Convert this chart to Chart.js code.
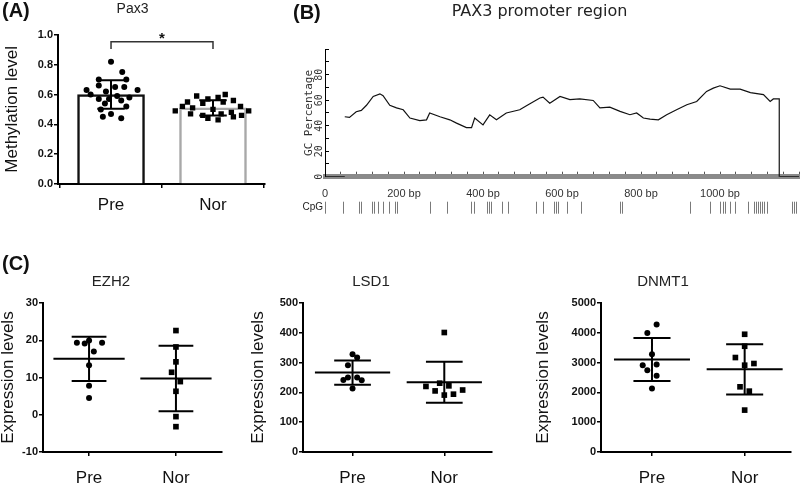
<!DOCTYPE html>
<html>
<head>
<meta charset="utf-8">
<script src="https://cdn.jsdelivr.net/npm/chart.js@4.4.1/dist/chart.umd.min.js"></script>
<style>
  html, body { margin: 0; padding: 0; background: #fff; }
  body { width: 800px; height: 485px; position: relative; overflow: hidden;
         font-family: 'Liberation Sans', Arial, sans-serif; }
  .box { position: absolute; }
  .tag { position: absolute; font-weight: bold; font-size: 20px; line-height: 20px; color: #111; }
</style>
</head>
<body>
<div class="box" style="left:0;top:0;width:329px;height:225px"><canvas id="chartA"></canvas></div>
<div class="box" style="left:280px;top:0;width:554px;height:225px"><canvas id="chartB"></canvas></div>
<div class="box" style="left:0;top:262px;width:255px;height:223px"><canvas id="chartEzh2"></canvas></div>
<div class="box" style="left:250px;top:262px;width:300px;height:223px"><canvas id="chartLsd1"></canvas></div>
<div class="box" style="left:535px;top:262px;width:336px;height:223px"><canvas id="chartDnmt1"></canvas></div>
<div class="tag" style="left:2px;top:0px">(A)</div>
<div class="tag" style="left:293px;top:2px">(B)</div>
<div class="tag" style="left:2px;top:253px">(C)</div>
<script>
// ---- data -------------------------------------------------------------
const groups = ['Pre', 'Nor'];

// (A) Pax3 methylation level, one value per sample
const pax3Pre = [0.82, 0.75, 0.70, 0.70, 0.66, 0.65, 0.65, 0.63, 0.63, 0.62, 0.60,
                 0.59, 0.58, 0.57, 0.57, 0.56, 0.54, 0.52, 0.50, 0.47, 0.45, 0.44];
const pax3PreJitter = [0, 0.11, -0.12, 0.15, -0.12, 0.04, 0.13, -0.24, 0.26, -0.05, -0.2,
                       0.06, 0.18, -0.12, -0.02, 0.1, -0.06, 0.15, -0.1, 0, -0.08, 0.1];
const pax3Nor = [0.60, 0.59, 0.58, 0.57, 0.56, 0.55, 0.55, 0.54, 0.52, 0.52, 0.51,
                 0.50, 0.49, 0.49, 0.48, 0.47, 0.47, 0.46, 0.46, 0.45, 0.44, 0.43];
const pax3NorJitter = [0.12, -0.16, 0.05, -0.05, 0.2, -0.25, 0.1, -0.1, -0.3, 0.27, -0.2,
                       0, -0.37, 0.35, 0.18, -0.22, 0.08, -0.1, 0.28, 0.2, -0.05, 0.05];
const pax3Bracket = { low: 0.905, high: 0.953, label: '*' };

// (B) GC percentage along the PAX3 promoter (bp)
const regionBp = [0, 1200];
const gcPos = [50, 62, 79, 92, 105, 122, 139, 147, 164, 181, 198, 215, 240, 257, 265, 291,
               316, 333, 358, 371, 379, 400, 417, 434, 459, 493, 510, 544, 552, 569, 595,
               620, 645, 679, 696, 721, 747, 772, 789, 806, 823, 844, 865, 890, 916, 941,
               966, 983, 1000, 1026, 1051, 1077, 1110, 1127, 1135, 1150];
const gcPct = [47, 46.5, 51, 52, 56, 63, 65, 63.5, 56, 54, 52.5, 46, 44, 44.6, 50, 47,
               44.6, 42, 38.5, 38.5, 46, 40.6, 48.5, 44.6, 50, 52.5, 55.6, 61.7, 62.4, 57.7, 63,
               60.4, 61, 59.8, 54, 54.5, 51.2, 48.6, 50, 46, 45.2, 44.6, 48.6, 52.5, 56.4, 59,
               66.9, 69.5, 71.3, 68.7, 68.7, 66, 64.4, 59, 61, 61];
const cpgSites = [46, 87, 92, 119, 125, 133, 146, 161, 176, 182, 266, 309, 370, 376, 411, 415,
                  419, 447, 464, 535, 552, 579, 584, 589, 613, 647, 748, 752, 924, 974, 1001,
                  1007, 1013, 1025, 1038, 1070, 1086, 1091, 1096, 1101, 1106, 1111, 1118,
                  1182, 1187, 1192];
const bpLabelEvery = 200;
const bpLabelMax = 1000;

// (C) expression levels
const ezh2Pre = [19.3, 19.1, 19.9, 19.3, 17.0, 13.3, 7.8, 4.5];
const ezh2PreJitter = [-0.14, -0.05, 0, 0.15, 0.055, 0, 0, 0];
const ezh2Nor = [22.6, 18.2, 14.2, 11.4, 8.9, 6.3, -0.5, -3.2];
const ezh2NorJitter = [0, 0, 0, -0.05, 0.05, 0, 0, 0];

const lsd1Pre = [328, 317, 291, 250, 250, 242, 241, 213];
const lsd1PreJitter = [0, 0.05, -0.05, -0.05, 0.05, -0.1, 0.1, 0];
const lsd1Nor = [401, 231, 222, 220, 205, 208, 191, 194];
const lsd1NorJitter = [0, -0.05, 0.05, -0.2, -0.1, 0.2, 0, 0.1];

const dnmt1Pre = [4275, 3996, 3281, 2913, 2935, 2746, 2556, 2132];
const dnmt1PreJitter = [0.05, -0.05, 0, -0.1, 0.05, -0.05, 0.05, 0];
const dnmt1Nor = [3951, 3549, 3170, 2913, 2969, 2188, 2042, 1406];
const dnmt1NorJitter = [0, 0, -0.1, 0, 0.1, -0.05, 0.05, 0];

// ---- helpers ----------------------------------------------------------
Chart.defaults.font.family = "'Liberation Sans', Arial, sans-serif";
Chart.defaults.color = '#111';
Chart.defaults.animation = false;
Chart.defaults.plugins.legend.display = false;
Chart.defaults.plugins.tooltip.enabled = false;

function stats(v) {
    const m = v.reduce((a, b) => a + b, 0) / v.length;
    const sd = Math.sqrt(v.reduce((a, b) => a + (b - m) * (b - m), 0) / (v.length - 1));
    return { m, sd };
}

function dots(vals, jitter, x) {
    return vals.map((v, i) => ({ x: x + jitter[i], y: v }));
}

// mean line (optional), SD whisker and caps, split with gaps
function errorSegments(vals, x, cap, meanHalf) {
    const { m, sd } = stats(vals);
    const gap = { x: x, y: null };
    const out = [];
    if (meanHalf) out.push({ x: x - meanHalf, y: m }, { x: x + meanHalf, y: m }, gap);
    out.push({ x: x, y: m - sd }, { x: x, y: m + sd }, gap);
    out.push({ x: x - cap, y: m + sd }, { x: x + cap, y: m + sd }, gap);
    out.push({ x: x - cap, y: m - sd }, { x: x + cap, y: m - sd }, gap);
    return out;
}

function groupTicks(scale) {
    scale.ticks = groups.map((g, i) => ({ value: i + 1 }));
}

const blackGrid = { drawOnChartArea: false, tickLength: 4, color: '#000', lineWidth: 1.5 };
const blackBorder = { color: '#000', width: 2 };

// ---- (A) ----------------------------------------------------------------
const starPlugin = {
    id: 'star',
    afterDatasetsDraw(chart) {
        const { ctx, scales: { x, y } } = chart;
        ctx.save();
        ctx.fillStyle = '#111';
        ctx.font = "bold 15px 'Liberation Sans', Arial";
        ctx.textAlign = 'center';
        ctx.textBaseline = 'alphabetic';
        ctx.fillText(pax3Bracket.label, (x.getPixelForValue(1) + x.getPixelForValue(2)) / 2,
                     y.getPixelForValue(pax3Bracket.high) + 1);
        ctx.restore();
    }
};

new Chart(document.getElementById('chartA'), {
    type: 'scatter',
    data: {
        datasets: [
            {
                type: 'bar',
                data: [pax3Pre, pax3Nor].map((v, i) => ({ x: i + 1, y: stats(v).m })),
                backgroundColor: '#fff',
                borderColor: ['#111', '#a8a8a8'],
                borderWidth: 2.5,
                barThickness: 67,
                order: 3
            },
            {
                data: dots(pax3Pre, pax3PreJitter, 1),
                pointStyle: 'circle', pointRadius: 3,
                backgroundColor: '#000', borderWidth: 0, order: 2
            },
            {
                data: dots(pax3Nor, pax3NorJitter, 2),
                pointStyle: 'rect', pointRadius: 3.8,
                backgroundColor: '#000', borderWidth: 0, order: 2
            },
            {
                type: 'line',
                data: errorSegments(pax3Pre, 1, 0.135, 0).concat([{ x: 1, y: null }], errorSegments(pax3Nor, 2, 0.135, 0)),
                borderColor: '#000', borderWidth: 2, pointRadius: 0, order: 1
            },
            {
                type: 'line',
                data: [{ x: 1, y: pax3Bracket.low }, { x: 1, y: pax3Bracket.high },
                       { x: 2, y: pax3Bracket.high }, { x: 2, y: pax3Bracket.low }],
                borderColor: '#333', borderWidth: 1.5, pointRadius: 0, order: 1
            }
        ]
    },
    options: {
        responsive: true,
        maintainAspectRatio: false,
        layout: { padding: { left: 0, right: 64, top: 0, bottom: 0 } },
        plugins: {
            title: {
                display: true, text: 'Pax3', color: '#222',
                font: { size: 14, weight: 'normal' },
                padding: { top: 1, bottom: 17 }
            }
        },
        scales: {
            x: {
                type: 'linear', min: 0.48, max: 2.51, offset: false,
                afterBuildTicks: groupTicks,
                afterFit: s => { s.height = 41; },
                grid: blackGrid, border: blackBorder,
                ticks: { callback: v => groups[v - 1], font: { size: 17 }, padding: 7, autoSkip: false, maxRotation: 0 }
            },
            y: {
                min: 0, max: 1,
                afterFit: s => { s.width = 58; },
                grid: blackGrid, border: blackBorder,
                ticks: { stepSize: 0.2, callback: v => v.toFixed(1), font: { size: 11, weight: 'bold' }, padding: 1 },
                title: { display: true, text: 'Methylation level', font: { size: 17, lineHeight: 1 }, padding: { top: 3.5, bottom: 0 } }
            }
        }
    },
    plugins: [starPlugin]
});

// ---- (B) ----------------------------------------------------------------
const cpgTrack = {
    id: 'cpgTrack',
    afterDraw(chart) {
        const { ctx, scales: { x } } = chart;
        const top = x.top + 25, bottom = x.top + 37;
        ctx.save();
        ctx.strokeStyle = '#7a7a7a';
        ctx.lineWidth = 1;
        [regionBp[0]].concat(cpgSites).forEach(p => {
            const px = Math.round(x.getPixelForValue(p)) + 0.5;
            ctx.beginPath();
            ctx.moveTo(px, top);
            ctx.lineTo(px, bottom);
            ctx.stroke();
        });
        ctx.fillStyle = '#222';
        ctx.font = "10px 'Liberation Sans Narrow', 'Liberation Sans', Arial";
        ctx.textAlign = 'right';
        ctx.textBaseline = 'middle';
        ctx.fillText('CpG', x.left - 2, (top + bottom) / 2);
        ctx.restore();
    }
};

const gcLine = [{ x: regionBp[0], y: 0 }, { x: gcPos[0], y: 0 }, { x: gcPos[0], y: null }]
    .concat(gcPos.map((p, i) => ({ x: p, y: gcPct[i] })))
    .concat([{ x: gcPos[gcPos.length - 1], y: 0 }, { x: regionBp[1], y: 0 }]);

new Chart(document.getElementById('chartB'), {
    type: 'scatter',
    data: {
        datasets: [{
            type: 'line', data: gcLine,
            borderColor: '#111', borderWidth: 1.2, pointRadius: 0, tension: 0
        }]
    },
    options: {
        responsive: true,
        maintainAspectRatio: false,
        layout: { padding: { left: 0, right: 35, top: 0, bottom: 0 } },
        plugins: {
            title: {
                display: true, text: 'PAX3 promoter region', color: '#222',
                font: { family: "'DejaVu Sans', sans-serif", size: 16, weight: 'normal' },
                padding: { top: 2, bottom: 28 }
            }
        },
        scales: {
            x: {
                type: 'linear', min: regionBp[0], max: regionBp[1],
                afterFit: s => { s.height = 48.3; },
                grid: { drawOnChartArea: false, tickLength: -5, color: '#555', lineWidth: 1 },
                border: { color: '#8a8a8a', width: 5 },
                ticks: {
                    stepSize: 40, autoSkip: false, maxRotation: 0, padding: 16, color: '#333',
                    font: { family: "'Liberation Sans Narrow', 'Liberation Sans', Arial", size: 11 },
                    callback: v => (v % bpLabelEvery === 0 && v <= bpLabelMax) ? (v === 0 ? '0' : v + ' bp') : ''
                }
            },
            y: {
                min: 0, max: 100,
                afterFit: s => { s.width = 45; },
                grid: { drawOnChartArea: false, tickLength: -4, color: '#000', lineWidth: 1 },
                border: { color: '#000', width: 1 },
                ticks: {
                    stepSize: 10, autoSkip: false, minRotation: 90, maxRotation: 90, crossAlign: 'center',
                    padding: 4, color: '#333',
                    font: { family: "'DejaVu Sans Mono', monospace", size: 10 },
                    callback: v => (v % 20 === 0 && v < 100) ? String(v) : ''
                },
                title: {
                    display: true, text: 'GC Percentage', color: '#333',
                    font: { family: "'DejaVu Sans Mono', monospace", size: 11 },
                    padding: { top: 23, bottom: 0 }
                }
            }
        }
    },
    plugins: [cpgTrack]
});

// ---- (C) ----------------------------------------------------------------
function dotPlot(id, title, pre, preJitter, nor, norJitter, yMin, yMax, yStep, axisWidth, xMin, xMax, padRight) {
    new Chart(document.getElementById(id), {
        type: 'scatter',
        data: {
            datasets: [
                {
                    data: dots(pre, preJitter, 1),
                    pointStyle: 'circle', pointRadius: 3,
                    backgroundColor: '#000', borderWidth: 0, order: 2
                },
                {
                    data: dots(nor, norJitter, 2),
                    pointStyle: 'rect', pointRadius: 4,
                    backgroundColor: '#000', borderWidth: 0, order: 2
                },
                {
                    type: 'line',
                    data: errorSegments(pre, 1, 0.2, 0.41).concat([{ x: 1, y: null }], errorSegments(nor, 2, 0.2, 0.41)),
                    borderColor: '#000', borderWidth: 2, pointRadius: 0, order: 1
                }
            ]
        },
        options: {
            responsive: true,
            maintainAspectRatio: false,
            layout: { padding: { left: 0, right: padRight, top: 0, bottom: 0 } },
            plugins: {
                title: {
                    display: true, text: title, color: '#222',
                    font: { size: 15, weight: 'normal' },
                    padding: { top: 11, bottom: 12 }
                }
            },
            scales: {
                x: {
                    type: 'linear', min: xMin, max: xMax, offset: false,
                    afterBuildTicks: groupTicks,
                    afterFit: s => { s.height = 33; },
                    grid: blackGrid, border: blackBorder,
                    ticks: { callback: v => groups[v - 1], font: { size: 17 }, padding: 12, autoSkip: false, maxRotation: 0 }
                },
                y: {
                    min: yMin, max: yMax,
                    afterFit: s => { s.width = axisWidth; },
                    grid: blackGrid, border: blackBorder,
                    ticks: { stepSize: yStep, callback: v => String(v), font: { size: 11, weight: 'bold' }, padding: 1 },
                    title: { display: true, text: 'Expression levels', font: { size: 17, lineHeight: 1 }, padding: { top: 0, bottom: 0 } }
                }
            }
        }
    });
}

dotPlot('chartEzh2', 'EZH2', ezh2Pre, ezh2PreJitter, ezh2Nor, ezh2NorJitter, -10, 30, 10, 43, 0.47, 2.53, 33);
dotPlot('chartLsd1', 'LSD1', lsd1Pre, lsd1PreJitter, lsd1Nor, lsd1NorJitter, 0, 500, 100, 53, 0.46, 2.52, 58);
dotPlot('chartDnmt1', 'DNMT1', dnmt1Pre, dnmt1PreJitter, dnmt1Nor, dnmt1NorJitter, 0, 5000, 1000, 66, 0.45, 2.50, 80);
</script>
</body>
</html>
